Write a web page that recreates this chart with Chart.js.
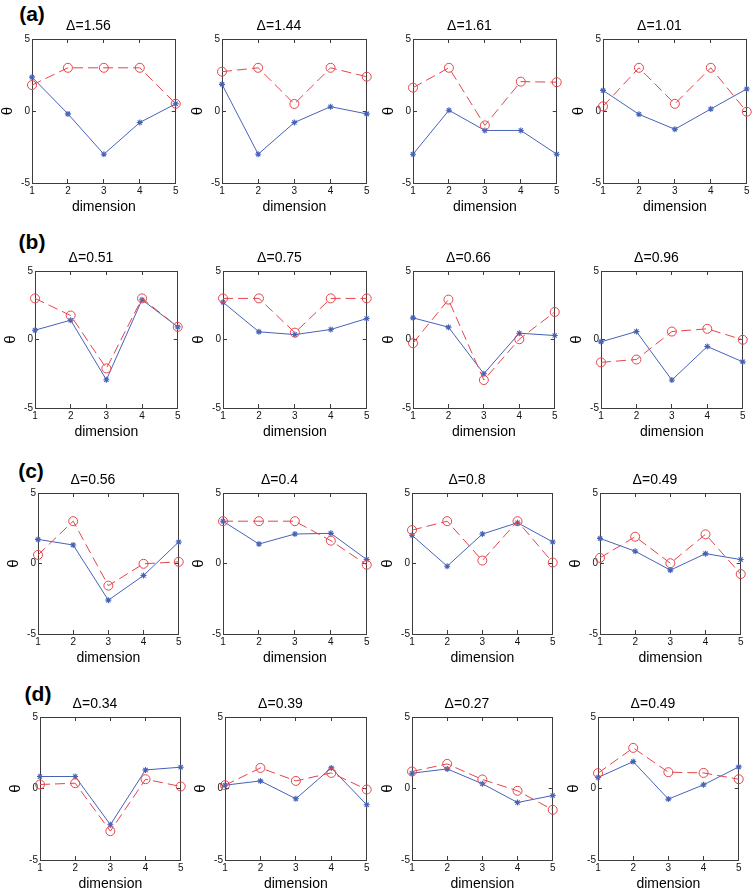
<!DOCTYPE html>
<html><head><meta charset="utf-8">
<script src="https://cdn.jsdelivr.net/npm/chart.js@4.4.1/dist/chart.umd.min.js"></script>
<style>
html,body{margin:0;padding:0;background:#fff;}
#wrap{position:relative;width:755px;height:891px;overflow:hidden;font-family:'Liberation Sans',Arial,sans-serif;}
#wrap canvas{position:absolute;}
.plabel{position:absolute;font-weight:bold;font-size:21px;transform:translate(-50%,-50%);color:#000;font-family:'Liberation Sans',Arial,sans-serif;}
</style></head><body><div id="wrap"></div>
<script>
// ---- data ----
const dims = ['1','2','3','4','5'];
const yTickValues = [-5, 0, 5];
const rowLabels = ['(a)', '(b)', '(c)', '(d)'];
const xTitle = 'dimension';
const yTitle = 'θ';

const deltaA = ['1.56', '1.44', '1.61', '1.01'];
const deltaB = ['0.51', '0.75', '0.66', '0.96'];
const deltaC = ['0.56', '0.4', '0.8', '0.49'];
const deltaD = ['0.34', '0.39', '0.27', '0.49'];

// blue solid line with * markers
const blueA = [
  [2.35, -0.2, -3.0, -0.8, 0.5],
  [1.85, -3.0, -0.8, 0.3, -0.2],
  [-3.0, 0.05, -1.35, -1.35, -3.0],
  [1.43, -0.23, -1.27, 0.14, 1.53]
];
const blueB = [
  [0.68, 1.41, -2.94, 2.9, 0.92],
  [2.72, 0.56, 0.36, 0.73, 1.53],
  [1.58, 0.9, -2.5, 0.46, 0.29],
  [-0.17, 0.58, -2.96, -0.51, -1.63]
];
const blueC = [
  [1.71, 1.31, -2.6, -0.85, 1.53],
  [3.0, 1.38, 2.09, 2.14, 0.28],
  [2.0, -0.19, 2.09, 2.89, 1.53],
  [1.78, 0.87, -0.47, 0.7, 0.28]
];
const blueD = [
  [0.84, 0.84, -2.53, 1.3, 1.49],
  [0.23, 0.53, -0.72, 1.44, -1.14],
  [1.07, 1.37, 0.33, -0.98, -0.49],
  [0.77, 1.88, -0.74, 0.26, 1.51]
];
// red dashed line with o markers
const redA = [
  [1.8, 3.0, 3.0, 3.0, 0.5],
  [2.73, 3.0, 0.49, 3.0, 2.38],
  [1.62, 3.0, -1.0, 2.04, 2.0],
  [0.32, 3.0, 0.5, 3.0, -0.05]
];
const redB = [
  [3.0, 1.75, -2.11, 3.0, 0.92],
  [3.0, 3.0, 0.5, 3.0, 3.0],
  [-0.27, 2.91, -2.96, 0.02, 2.01],
  [-1.67, -1.46, 0.58, 0.78, -0.02]
];
const redC = [
  [0.61, 3.0, -1.57, -0.02, 0.12],
  [3.0, 3.0, 3.0, 1.62, -0.09],
  [2.37, 3.0, 0.21, 3.0, 0.07],
  [0.4, 1.9, 0.02, 2.07, -0.75]
];
const redD = [
  [0.28, 0.37, -2.98, 0.65, 0.14],
  [0.23, 1.44, 0.53, 1.09, -0.07],
  [1.19, 1.72, 0.63, -0.16, -1.49],
  [1.07, 2.84, 1.14, 1.09, 0.65]
];

const deltas = [deltaA, deltaB, deltaC, deltaD];
const blues = [blueA, blueB, blueC, blueD];
const reds = [redA, redB, redC, redD];

// ---- layout (plot-area rectangles in page pixels) ----
const rowTops = [39, 271, 493, 717];
const rowBottoms = [183, 408, 634, 860];
const colLefts = [[32,222,413,603],[35,223,413,601],[38,223,412,600],[40,225,412,598]];
const colRights = [[177,368,558,748],[179,368,556,744],[180,368,554,742],[182,368,554,740]];
const labelPos = [[32,14],[32,242],[31,471],[38,694]];

const PAD_L = 32, PAD_R = 8, PAD_T = 26, PAD_B = 34;
const BLUE = '#4662b8', RED = '#e5444a', AXIS = '#3c3c3c';
const FONT = "'Liberation Sans', Arial, sans-serif";

const wrap = document.getElementById('wrap');

rowLabels.forEach((t, r) => {
  const d = document.createElement('div');
  d.className = 'plabel';
  d.textContent = t;
  d.style.left = labelPos[r][0] + 'px';
  d.style.top = labelPos[r][1] + 'px';
  wrap.appendChild(d);
});

function tickGrid() {
  return {display: true, drawOnChartArea: false, drawTicks: true, tickLength: -4, color: AXIS, lineWidth: 1};
}

for (let r = 0; r < 4; r++) {
  for (let c = 0; c < 4; c++) {
    const left = colLefts[r][c], right = colRights[r][c];
    const top = rowTops[r], bottom = rowBottoms[r];
    const w = right - left + PAD_L + PAD_R;
    const h = bottom - top + PAD_T + PAD_B;
    const cv = document.createElement('canvas');
    cv.width = w; cv.height = h;
    cv.style.left = (left - PAD_L) + 'px';
    cv.style.top = (top - PAD_T) + 'px';
    cv.style.width = w + 'px'; cv.style.height = h + 'px';
    wrap.appendChild(cv);

    new Chart(cv, {
      type: 'line',
      data: {
        labels: dims,
        datasets: [
          {
            data: reds[r][c], borderColor: RED, backgroundColor: 'rgba(0,0,0,0)',
            borderWidth: 1, borderDash: [10, 5], pointStyle: 'circle', pointRadius: 4.5,
            pointBorderColor: RED, pointBackgroundColor: 'rgba(0,0,0,0)', pointBorderWidth: 1,
            tension: 0, clip: false
          },
          {
            data: blues[r][c], borderColor: BLUE, backgroundColor: BLUE,
            borderWidth: 1, pointStyle: 'star', pointRadius: 3,
            pointBorderColor: BLUE, pointBackgroundColor: BLUE, pointBorderWidth: 1.1,
            tension: 0, clip: false
          }
        ]
      },
      options: {
        responsive: false, animation: false, devicePixelRatio: 1,
        layout: {padding: {left: 0, right: PAD_R, top: 0, bottom: 0}},
        plugins: {
          legend: {display: false}, tooltip: {enabled: false},
          title: {
            display: true, text: 'Δ=' + deltas[r][c], color: '#000',
            font: {family: FONT, size: 14, lineHeight: 1, weight: 'normal'},
            padding: {top: 6.5, bottom: 5.5}
          }
        },
        scales: {
          x: {
            type: 'category', position: 'bottom', offset: false,
            grid: tickGrid(), border: {display: true, color: AXIS, width: 1},
            ticks: {color: '#111', font: {family: FONT, size: 10}, padding: 6.5, maxRotation: 0, autoSkip: false},
            title: {display: true, text: xTitle, color: '#000', font: {family: FONT, size: 14, lineHeight: 1}, padding: {top: 0, bottom: 3}},
            afterFit: s => { s.height = PAD_B; }
          },
          x2: {
            type: 'category', position: 'top', offset: false, labels: dims,
            grid: tickGrid(), border: {display: true, color: AXIS, width: 1},
            ticks: {display: false},
            afterFit: s => { s.height = 0; }
          },
          y: {
            type: 'linear', position: 'left', min: -5, max: 5,
            grid: tickGrid(), border: {display: true, color: AXIS, width: 1},
            afterBuildTicks: s => { s.ticks = yTickValues.map(v => ({value: v})); },
            ticks: {color: '#111', font: {family: FONT, size: 10}, padding: 6},
            title: {display: true, text: yTitle, color: '#000', font: {family: FONT, size: 15, lineHeight: 1}, padding: {top: 0, bottom: 0}},
            afterFit: s => { s.width = PAD_L; }
          },
          y2: {
            type: 'linear', position: 'right', min: -5, max: 5,
            grid: tickGrid(), border: {display: true, color: AXIS, width: 1},
            afterBuildTicks: s => { s.ticks = yTickValues.map(v => ({value: v})); },
            ticks: {display: false},
            afterFit: s => { s.width = 0; }
          }
        }
      }
    });
  }
}
</script>
</body></html>
